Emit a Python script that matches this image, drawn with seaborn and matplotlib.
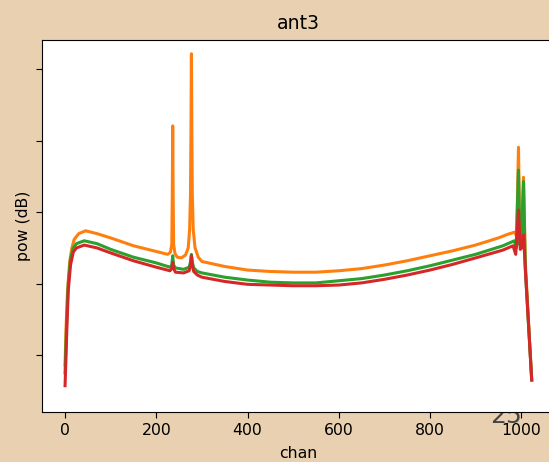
"""Bandpass power per channel for ant3."""

import pandas as pd
import matplotlib
matplotlib.use("Agg")
import matplotlib.pyplot as plt
import seaborn as sns

# Anchor channels and power (dB), one pair of lists per pol
chan_a = [0, 2, 5, 10, 15, 20, 30, 45, 70, 100, 150, 200, 225, 231, 234, 235,
          236, 237, 238, 241, 246, 255, 264, 270, 273, 275, 276, 277, 278, 279,
          281, 285, 292, 300, 350, 400, 450, 500, 550, 600, 650, 700, 750, 800,
          850, 900, 925, 950, 970, 985, 990, 994, 997, 1001, 1005, 1009, 1023]
pow_a = [18.6, 23.5, 28.4, 33.0, 35.0, 36.2, 37.0, 37.4, 37.0, 36.4, 35.3, 34.5,
         34.1, 34.4, 35.5, 42.0, 52.1, 42.0, 35.5, 34.2, 33.7, 33.6, 34.0, 35.0,
         37.5, 42.5, 51.0, 62.2, 51.0, 42.5, 37.5, 35.0, 33.7, 33.1, 32.4, 31.9,
         31.7, 31.6, 31.6, 31.8, 32.1, 32.6, 33.2, 33.9, 34.6, 35.4, 35.9, 36.4,
         36.9, 37.2, 36.7, 49.1, 36.0, 37.4, 44.9, 33.0, 16.5]

chan_b = [0, 2, 4, 7, 12, 18, 25, 42, 70, 100, 150, 200, 230, 234, 236, 238,
          242, 260, 272, 275, 277, 279, 282, 290, 300, 350, 400, 450, 500, 550,
          600, 650, 700, 750, 800, 850, 900, 960, 985, 989, 994, 997, 1001, 1005,
          1009, 1023]
pow_b = [17.5, 21.5, 25.5, 30.0, 33.5, 35.0, 35.6, 36.0, 35.6, 34.8, 33.7, 32.9,
         32.3, 32.6, 33.9, 32.6, 32.2, 32.0, 32.3, 33.0, 34.1, 33.0, 32.2, 31.7,
         31.5, 30.9, 30.5, 30.2, 30.1, 30.1, 30.4, 30.7, 31.2, 31.8, 32.5, 33.3,
         34.1, 35.3, 36.0, 35.0, 45.9, 35.4, 36.8, 44.3, 32.0, 16.5]

chan_c = [0, 2, 4, 7, 12, 18, 25, 42, 70, 100, 150, 200, 230, 234, 236, 238,
          242, 260, 272, 275, 277, 279, 282, 290, 300, 350, 400, 450, 500, 550,
          600, 650, 700, 750, 800, 850, 900, 960, 982, 988, 994, 998, 1002, 1005,
          1010, 1023]
pow_c = [15.7, 19.6, 23.8, 29.0, 32.6, 34.4, 35.0, 35.4, 35.0, 34.3, 33.2, 32.3,
         31.8, 32.1, 33.0, 32.1, 31.6, 31.5, 31.8, 32.6, 33.9, 32.6, 31.7, 31.2,
         30.9, 30.3, 29.9, 29.8, 29.7, 29.7, 29.8, 30.1, 30.6, 31.2, 31.9, 32.7,
         33.6, 34.7, 35.3, 34.1, 40.3, 34.8, 35.1, 36.8, 31.0, 16.5]

pols = ["YY", "XY", "YX"]
colors = ["#ff7f0e", "#2ca02c", "#d62728"]
yticks = [20, 30, 40, 50, 60]

df = pd.concat([
    pd.DataFrame({"chan": chan_a, "pow": pow_a, "pol": pols[0]}),
    pd.DataFrame({"chan": chan_b, "pow": pow_b, "pol": pols[1]}),
    pd.DataFrame({"chan": chan_c, "pow": pow_c, "pol": pols[2]}),
])

fig = plt.figure(figsize=(5.49, 4.62), dpi=100, facecolor="#e8d0b0")
ax = fig.add_axes([0.076, 0.108, 0.935, 0.805])

sns.lineplot(data=df, x="chan", y="pow", hue="pol", hue_order=pols,
             palette=colors, linewidth=2.2, legend=False, sort=False,
             estimator=None, ax=ax)

ax.set_xlim(-51.15, 1074.15)
ax.set_ylim(12.0, 64.1)
ax.set_yticks(yticks)
ax.set_yticklabels([])
ax.set_xticks([0, 200, 400, 600, 800, 1000])
ax.tick_params(labelsize=11.3, length=4)
ax.set_xlabel("chan", fontsize=11.3, labelpad=6)
ax.set_ylabel("pow (dB)", fontsize=11.3, labelpad=0)
ax.set_title("ant3", fontsize=13.6, pad=8)

# stray label from a neighbouring panel, partly hidden behind the axes
fig.text(0.8925, 0.0844, "25'", fontsize=18, color="#444444",
         va="baseline", ha="left", zorder=-1)

fig.savefig("out.png", dpi=100, facecolor=fig.get_facecolor())
